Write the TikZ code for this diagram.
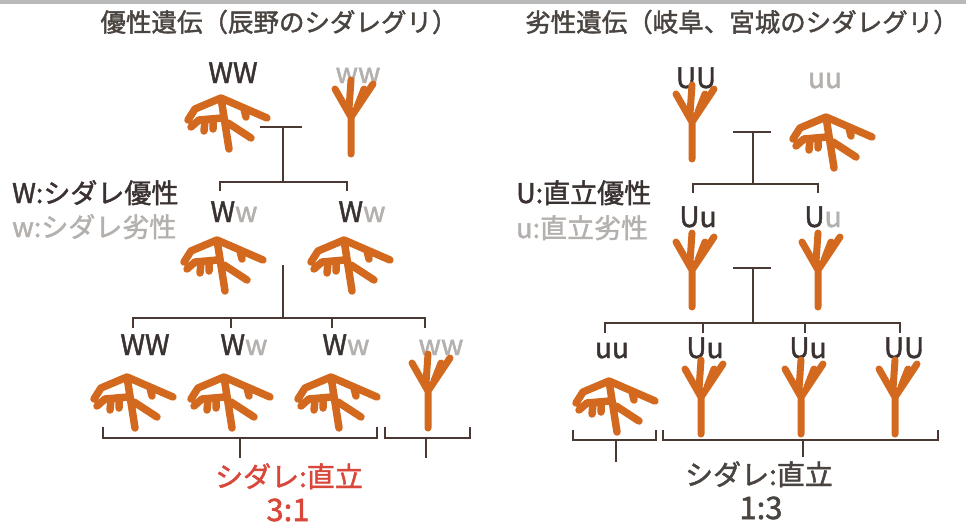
\documentclass[tikz,border=0pt]{standalone}
\usepackage{fontspec}
\setmainfont{Noto Sans CJK JP}
\newfontfamily\heavyjp[FakeBold=1.6]{Noto Sans CJK JP}
\definecolor{titlegray}{HTML}{4A4440}
\definecolor{dom}{HTML}{3A3231}
\definecolor{rec}{HTML}{B4B0AE}
\definecolor{bark}{HTML}{D2691E}
\definecolor{stem}{HTML}{4A3833}
\definecolor{ratiored}{HTML}{D9473A}

\tikzset{
  weeping/.pic={
    \draw[bark, line width=7.5pt, line cap=round, line join=round]
      (-37,-3) -- (-30,-14) -- (-4,-25) -- (42,-5)
      (-34,4) -- (-26,-3) -- (-3,-5)
      (-20,-2) -- (-21,8)
      (-12,-4) -- (-12,6)
      (-4,-25) -- (4,26)
      (3,0) -- (26,15)
      (19,-14) -- (21,-6);
  },
  upright/.pic={
    \draw[bark, line width=7pt, line cap=round, line join=round]
      (-2,37) -- (-2,0) -- (-18,-28)
      (-2,0) -- (20,-33)
      (-4,-8) -- (-2,-37)
      (4,-10) -- (11,-28);
  }
}

\begin{document}
\begin{tikzpicture}[x=1pt, y=-1pt,
    title/.style={font=\heavyjp\fontsize{25.5}{30}\selectfont, text=titlegray, inner sep=0pt},
    gene/.style={font=\heavyjp\fontsize{28}{30}\selectfont, inner sep=0pt, anchor=base},
    legend/.style={font=\heavyjp\fontsize{27}{30}\selectfont, inner sep=0pt, anchor=base west},
    ratio/.style={font=\heavyjp\fontsize{28}{32}\selectfont, inner sep=0pt, anchor=base},
    line/.style={stem, line width=2.8pt}]
  \useasboundingbox (0,0) rectangle (966,527);
  \fill[white] (0,0) rectangle (966,527);
  \fill[gray!55] (0,0) rectangle (966,4);

  % titles
  \node[title] (tl) at (279,22) {優性遺伝（辰野のシダレグリ）};
  \node[title] (tr) at (742,22) {劣性遺伝（岐阜、宮城のシダレグリ）};

  %% dominant side
  \node[gene, text=dom] (p1) at (233,83) {WW};
  \node[gene, text=rec] (p2) at (358,83) {ww};
  \pic at (225,123) {weeping};
  \pic at (353,117) {upright};

  \node[legend, text=dom] (k1) at (12,203) {W:シダレ優性};
  \node[legend, text=rec] (k2) at (12,237) {w:シダレ劣性};

  \node[gene] (f1a) at (234,222) {\textcolor{dom}{W}\textcolor{rec}{w}};
  \node[gene] (f1b) at (362,222) {\textcolor{dom}{W}\textcolor{rec}{w}};
  \pic at (221,265) {weeping};
  \pic at (348,265) {weeping};

  \node[gene, text=dom] (g1) at (145,355) {WW};
  \node[gene] (g2) at (244,355) {\textcolor{dom}{W}\textcolor{rec}{w}};
  \node[gene] (g3) at (346,355) {\textcolor{dom}{W}\textcolor{rec}{w}};
  \node[gene, text=rec] (g4) at (441,355) {ww};
  \pic at (131,402) {weeping};
  \pic at (228,402) {weeping};
  \pic at (335,402) {weeping};
  \pic at (430,391) {upright};

  \node[ratio, text=ratiored] (rl) at (289,487) {シダレ:直立};
  \node[ratio, text=ratiored, font=\heavyjp\fontsize{31}{32}\selectfont] (rln) at (288,521) {3:1};

  % crossing lines
  \coordinate (L0) at (283,127);
  \coordinate (L1) at (283,182);
  \coordinate (a1) at (220,191);
  \coordinate (a2) at (347,191);
  \draw[line] ([xshift=-23]L0) -- ([xshift=19]L0);
  \draw[line] (L0) -- (L1);
  \draw[line] (a1) |- (L1) -| (a2);

  \coordinate (L2) at (283,265);
  \coordinate (L3) at (283,318);
  \coordinate (b1) at (133,328);
  \coordinate (b2) at (231,328);
  \coordinate (b3) at (332,328);
  \coordinate (b4) at (425,328);
  \draw[line] (L2) -- (L3);
  \draw[line] (b1) |- (L3) -| (b4);
  \draw[line] (b2) -- (b2 |- L3);
  \draw[line] (b3) -- (b3 |- L3);

  \coordinate (c1) at (103,427);
  \coordinate (c2) at (377,427);
  \coordinate (cb) at (240,438);
  \coordinate (d1) at (385,427);
  \coordinate (d2) at (470,427);
  \coordinate (db) at (426,438);
  \draw[line] (c1) |- (cb) -| (c2);
  \draw[line] (cb) -- ++(0,20);
  \draw[line] (d1) |- (db) -| (d2);
  \draw[line] (db) -- ++(0,20);

  %% recessive side
  \node[gene, text=dom] (q1) at (696,88) {UU};
  \node[gene, text=rec] (q2) at (825,88) {uu};
  \pic at (694,122) {upright};
  \pic at (830,142) {weeping};

  \node[legend, text=dom] (k3) at (516,203) {U:直立優性};
  \node[legend, text=rec] (k4) at (516,238) {u:直立劣性};

  \node[gene] (h1a) at (698,227) {\textcolor{dom}{Uu}};
  \node[gene] (h1b) at (823,227) {\textcolor{dom}{U}\textcolor{rec}{u}};
  \pic at (694,270) {upright};
  \pic at (820,270) {upright};

  \node[gene, text=dom] (s1) at (612,358) {uu};
  \node[gene, text=dom] (s2) at (705,358) {Uu};
  \node[gene, text=dom] (s3) at (808,358) {Uu};
  \node[gene, text=dom] (s4) at (904,358) {UU};
  \pic at (613,406) {weeping};
  \pic at (703,397) {upright};
  \pic at (803,397) {upright};
  \pic at (897,397) {upright};

  \node[ratio, text=titlegray] (rr) at (759,485) {シダレ:直立};
  \node[ratio, text=titlegray, font=\heavyjp\fontsize{31}{32}\selectfont] (rrn) at (761,519) {1:3};

  \coordinate (R0) at (753,132);
  \coordinate (R1) at (753,184);
  \coordinate (e1) at (693,193);
  \coordinate (e2) at (818,193);
  \draw[line] ([xshift=-20]R0) -- ([xshift=18]R0);
  \draw[line] (R0) -- (R1);
  \draw[line] (e1) |- (R1) -| (e2);

  \coordinate (R2) at (753,268);
  \coordinate (R3) at (753,323);
  \coordinate (m1) at (605,333);
  \coordinate (m2) at (703,333);
  \coordinate (m3) at (805,333);
  \coordinate (m4) at (900,333);
  \draw[line] ([xshift=-20]R2) -- ([xshift=18]R2);
  \draw[line] (R2) -- (R3);
  \draw[line] (m1) |- (R3) -| (m4);
  \draw[line] (m2) -- (m2 |- R3);
  \draw[line] (m3) -- (m3 |- R3);

  \coordinate (n1) at (573,430);
  \coordinate (n2) at (656,430);
  \coordinate (nb) at (616,440);
  \coordinate (o1) at (663,430);
  \coordinate (o2) at (938,430);
  \coordinate (ob) at (803,440);
  \draw[line] (n1) |- (nb) -| (n2);
  \draw[line] (nb) -- ++(0,22);
  \draw[line] (o1) |- (ob) -| (o2);
  \draw[line] (ob) -- ++(0,17);
\end{tikzpicture}
\end{document}
